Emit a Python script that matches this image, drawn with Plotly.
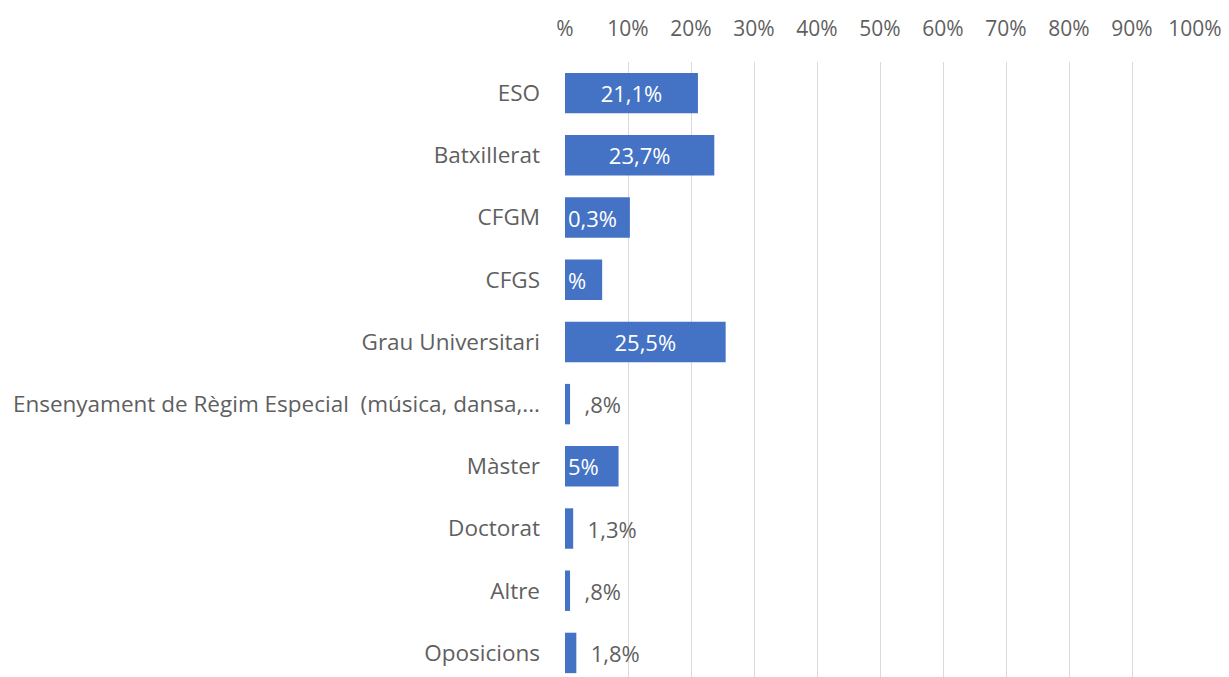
import plotly.graph_objects as go

categories = ["ESO", "Batxillerat", "CFGM", "CFGS", "Grau Universitari",
              "Ensenyament de Règim Especial  (música, dansa,...",
              "Màster", "Doctorat", "Altre", "Oposicions"]
values = [21.1, 23.7, 10.3, 5.9, 25.5, 0.8, 8.5, 1.3, 0.8, 1.8]
labels = ["21,1%", "23,7%", "0,3%", "%", "25,5%", ",8%", "5%", "1,3%", ",8%", "1,8%"]
label_modes = ["middle", "middle", "start", "start", "middle",
               "outside", "start", "outside", "outside", "outside"]
tick_vals = [0, 10, 20, 30, 40, 50, 60, 70, 80, 90, 100]
tick_text = ["%", "10%", "20%", "30%", "40%", "50%", "60%", "70%", "80%", "90%", "100%"]

BLUE = "#4472C4"
GRAY = "#5f5f5f"
FONT = "Open Sans"

fig = go.Figure()
for mode in ["middle", "start", "outside"]:
    xs = [v if m == mode else None for v, m in zip(values, label_modes)]
    ts = [t if m == mode else "" for t, m in zip(labels, label_modes)]
    fig.add_trace(go.Bar(
        y=categories, x=xs, orientation="h", text=ts,
        texttemplate="%{text}" if mode != "outside" else "\u00a0\u00a0%{text}",
        textposition="inside" if mode != "outside" else "outside",
        insidetextanchor=mode if mode != "outside" else "middle",
        constraintext="none",
        textfont=dict(size=22, family=FONT,
                      color="white" if mode != "outside" else GRAY),
        marker=dict(color=BLUE, line=dict(width=0)),
        cliponaxis=True, hoverinfo="skip", showlegend=False,
    ))

fig.update_layout(
    width=1221, height=669,
    margin=dict(l=557, r=34, t=54, b=0),
    paper_bgcolor="white", plot_bgcolor="white",
    barmode="overlay", bargap=0.35, showlegend=False,
    font=dict(family=FONT, size=21, color=GRAY),
)
fig.update_xaxes(
    side="top", range=[0, 100], tickvals=tick_vals, ticktext=tick_text,
    showgrid=True, gridcolor="#d9d9d9", gridwidth=1, zeroline=False,
    showline=False, ticks="", ticklabelstandoff=21, automargin=False,
    tickfont=dict(size=21, color=GRAY, family=FONT),
)
fig.update_yaxes(
    categoryorder="array", categoryarray=categories,
    range=[9.387, -0.5], showgrid=False, zeroline=False, showline=False,
    ticks="", ticklabelstandoff=24, automargin=False,
    tickfont=dict(size=22.5, color=GRAY, family=FONT),
)

fig.write_html("out.html")
